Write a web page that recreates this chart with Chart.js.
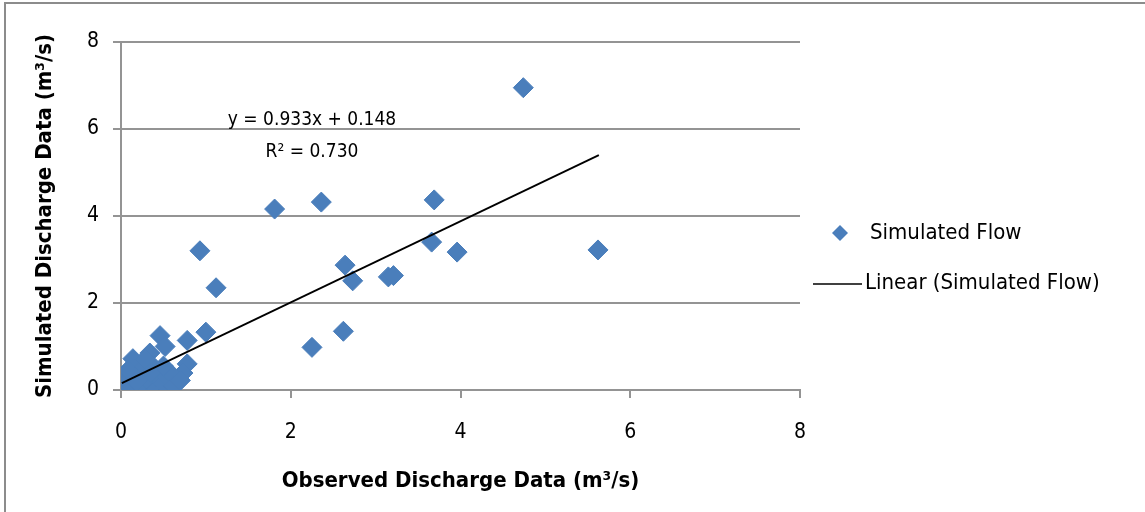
<!DOCTYPE html>
<html>
<head>
<meta charset="utf-8">
<script src="https://cdn.jsdelivr.net/npm/chart.js@4"></script>
<style>
  html, body { margin: 0; padding: 0; background: #fff; }
  #wrap { width: 1145px; height: 512px; position: relative; }
</style>
</head>
<body>
<div id="wrap"><canvas id="chart" width="1145" height="512"></canvas></div>
<script>
// observed vs simulated discharge (m3/s)
const observed = [
  4.74, 1.81, 2.36, 3.69, 3.66, 3.96, 5.62, 0.93, 1.12, 2.64, 2.73, 3.15, 3.21,
  2.25, 2.62, 1.00, 0.46, 0.52, 0.78, 0.78, 0.73,
  0.02, 0.04, 0.05, 0.08, 0.10, 0.12, 0.15, 0.17, 0.20, 0.22, 0.24, 0.27, 0.30,
  0.32, 0.34, 0.37, 0.40, 0.42, 0.45, 0.50, 0.55, 0.60, 0.14, 0.08, 0.28, 0.35,
  0.18, 0.50, 0.62, 0.70
];
const simulated = [
  6.95, 4.16, 4.32, 4.37, 3.40, 3.17, 3.22, 3.20, 2.35, 2.87, 2.51, 2.60, 2.63,
  0.98, 1.35, 1.33, 1.25, 1.00, 1.14, 0.60, 0.39,
  0.05, 0.15, 0.38, 0.02, 0.25, 0.50, 0.10, 0.62, 0.35, 0.00, 0.18, 0.55, 0.05,
  0.30, 0.85, 0.12, 0.50, 0.02, 0.25, 0.15, 0.30, 0.35, 0.72, 0.45, 0.70, 0.40,
  0.20, 0.55, 0.10, 0.22
];
// linear trend from the equation printed on the chart
const trendSlope = 0.933;
const trendIntercept = 0.148;
const trendRange = [0.01, 5.63];
const axisTicks = [0, 2, 4, 6, 8];
const equationText = 'y = 0.933x + 0.148';
const rSquaredText = 'R\u00B2 = 0.730';
const seriesName = 'Simulated Flow';
const trendName = 'Linear (Simulated Flow)';

const FONT = "'Liberation Sans Narrow', 'DejaVu Sans Condensed', 'Liberation Sans', sans-serif";
const BLUE = '#4a7ebb';
const GRID = '#949494';

const scatterData = observed.map((x, i) => ({ x: x, y: simulated[i] }));
const trendData = trendRange.map(x => ({ x: x, y: trendSlope * x + trendIntercept }));

const extras = {
  id: 'extras',
  beforeDraw(chart) {
    const ctx = chart.ctx;
    ctx.save();
    ctx.fillStyle = '#fff';
    ctx.fillRect(0, 0, chart.width, chart.height);
    ctx.strokeStyle = '#8c8c8c';
    ctx.lineWidth = 2;
    ctx.strokeRect(5, 3, chart.width + 10, chart.height + 10);
    ctx.restore();
  },
  afterDraw(chart) {
    const ctx = chart.ctx;
    ctx.save();
    ctx.fillStyle = '#000';
    ctx.font = '19px ' + FONT;
    ctx.textBaseline = 'middle';
    ctx.textAlign = 'center';
    ctx.fillText(equationText, 312, 120);
    ctx.fillText(rSquaredText, 312, 152);

    // legend
    ctx.font = '22px ' + FONT;
    ctx.textAlign = 'left';
    ctx.fillStyle = BLUE;
    ctx.beginPath();
    ctx.moveTo(840, 225); ctx.lineTo(848, 233); ctx.lineTo(840, 241); ctx.lineTo(832, 233);
    ctx.closePath();
    ctx.fill();
    ctx.fillStyle = '#000';
    ctx.fillText(seriesName, 870, 233);
    ctx.strokeStyle = '#000';
    ctx.lineWidth = 1.5;
    ctx.beginPath();
    ctx.moveTo(813, 284); ctx.lineTo(862, 284);
    ctx.stroke();
    ctx.fillText(trendName, 865, 283);
    ctx.restore();
  }
};

new Chart(document.getElementById('chart'), {
  type: 'scatter',
  data: {
    datasets: [
      {
        label: seriesName,
        data: scatterData,
        order: 1,
        pointStyle: 'rectRot',
        pointRadius: 10,
        backgroundColor: BLUE,
        borderColor: BLUE,
        borderWidth: 1
      },
      {
        label: trendName,
        type: 'line',
        data: trendData,
        order: 0,
        borderColor: '#000',
        borderWidth: 1.8,
        pointRadius: 0,
        fill: false
      }
    ]
  },
  options: {
    responsive: false,
    animation: false,
    layout: { padding: { left: 0, top: 42, right: 345, bottom: 0 } },
    plugins: { legend: { display: false }, tooltip: { enabled: false } },
    scales: {
      x: {
        type: 'linear',
        min: 0, max: 8,
        afterBuildTicks: s => { s.ticks = axisTicks.map(v => ({ value: v })); },
        afterFit: s => { s.height = 122; },
        grid: { drawOnChartArea: false, drawTicks: true, tickLength: 8, color: GRID, lineWidth: 2 },
        border: { display: true, color: GRID, width: 2 },
        ticks: { color: '#000', padding: 22, font: { family: FONT, size: 21 } },
        title: {
          display: true,
          text: 'Observed Discharge Data (m\u00B3/s)',
          color: '#000',
          font: { family: FONT, size: 22, weight: 'bold' },
          padding: { top: 0, bottom: 18 }
        }
      },
      y: {
        type: 'linear',
        min: 0, max: 8,
        afterBuildTicks: s => { s.ticks = axisTicks.map(v => ({ value: v })); },
        afterFit: s => { s.width = 121; },
        grid: { drawTicks: true, tickLength: 8, color: GRID, lineWidth: 2 },
        border: { display: true, color: GRID, width: 2 },
        ticks: { color: '#000', padding: 14, font: { family: FONT, size: 21 } },
        title: {
          display: true,
          text: 'Simulated Discharge Data (m\u00B3/s)',
          color: '#000',
          font: { family: FONT, size: 22, weight: 'bold' },
          padding: { top: 32, bottom: 0 }
        }
      }
    }
  },
  plugins: [extras]
});
</script>
</body>
</html>
